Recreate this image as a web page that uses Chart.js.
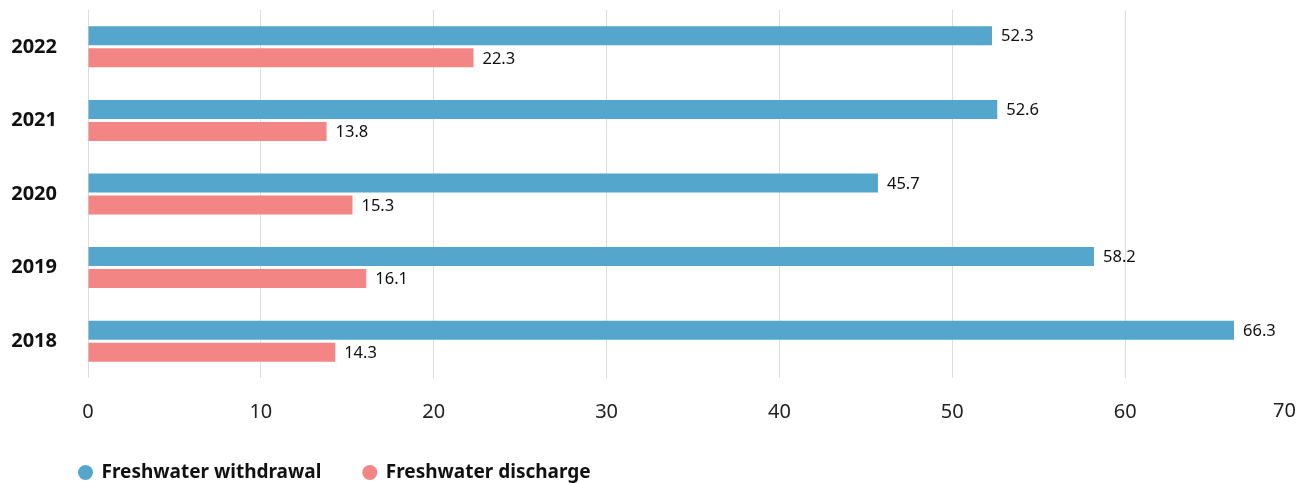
<!DOCTYPE html>
<html><head><meta charset="utf-8">
<script src="https://cdn.jsdelivr.net/npm/chart.js@4"></script>
<style>html,body{margin:0;padding:0;background:#fff}#wrap{width:1298px;height:483px;position:relative}</style>
</head><body><div id="wrap"><canvas id="c"></canvas></div>
<script>
const categories = ['2022','2021','2020','2019','2018'];
const withdrawal = [52.3, 52.6, 45.7, 58.2, 66.3];
const discharge = [22.3, 13.8, 15.3, 16.1, 14.3];
const seriesNames = ['Freshwater withdrawal', 'Freshwater discharge'];
const xMax = 70;

const FONT = '"Noto Sans", sans-serif';

const valueLabels = {
  id: 'valueLabels',
  afterDatasetsDraw(chart) {
    const ctx = chart.ctx;
    ctx.save();
    ctx.font = '16.5px ' + FONT;
    ctx.fillStyle = '#111';
    ctx.textAlign = 'left';
    ctx.textBaseline = 'middle';
    chart.data.datasets.forEach((ds, i) => {
      chart.getDatasetMeta(i).data.forEach((bar, j) => {
        ctx.fillText(ds.data[j].toFixed(1), bar.x + 9, bar.y + 1);
      });
    });
    ctx.restore();
  }
};

const lastTick = {
  id: 'lastTick',
  afterLayout(chart) {
    chart.legend.left += 37;
  },
  afterDraw(chart) {
    const s = chart.scales.x;
    const ctx = chart.ctx;
    ctx.save();
    ctx.font = '20px ' + FONT;
    ctx.fillStyle = '#222';
    ctx.textAlign = 'right';
    ctx.textBaseline = 'middle';
    ctx.fillText(String(xMax), Math.min(s.getPixelForValue(xMax), chart.width - 2), s.top + 33);
    ctx.restore();
  }
};

new Chart(document.getElementById('c'), {
  type: 'bar',
  data: {
    labels: categories,
    datasets: [
      { label: seriesNames[0], data: withdrawal, backgroundColor: '#54a6cd', categoryPercentage: 0.598, barPercentage: 0.864 },
      { label: seriesNames[1], data: discharge, backgroundColor: '#f38585', categoryPercentage: 0.598, barPercentage: 0.864 }
    ]
  },
  options: {
    indexAxis: 'y',
    responsive: true,
    maintainAspectRatio: false,
    animation: false,
    layout: { padding: { left: 0, top: 10, right: 0, bottom: 0 } },
    scales: {
      x: {
        min: 0, max: xMax,
        ticks: { stepSize: 10, padding: 22, color: '#222', font: { family: FONT, size: 20 },
          callback: (v) => v === xMax ? '' : v },
        grid: { color: '#dcdcdc', lineWidth: 1, drawTicks: false },
        border: { display: false },
        afterFit(s) { s.paddingRight = 0; s.paddingLeft = 0; s.height = 43; }
      },
      y: {
        ticks: { padding: 31, color: '#111', font: { family: FONT, size: 20, weight: 'bold' } },
        grid: { display: false, drawTicks: false },
        border: { display: false },
        afterFit(s) { s.paddingTop = 0; s.paddingBottom = 0; s.width = 88; }
      }
    },
    plugins: {
      legend: {
        position: 'bottom', align: 'start', maxHeight: 62,
        labels: { usePointStyle: true, pointStyle: 'circle', boxWidth: 13, boxHeight: 10.6,
          padding: 42, color: '#111', font: { family: FONT, size: 19, weight: 'bold' } }
      },
      tooltip: { enabled: false }
    }
  },
  plugins: [valueLabels, lastTick]
});
</script></body></html>
